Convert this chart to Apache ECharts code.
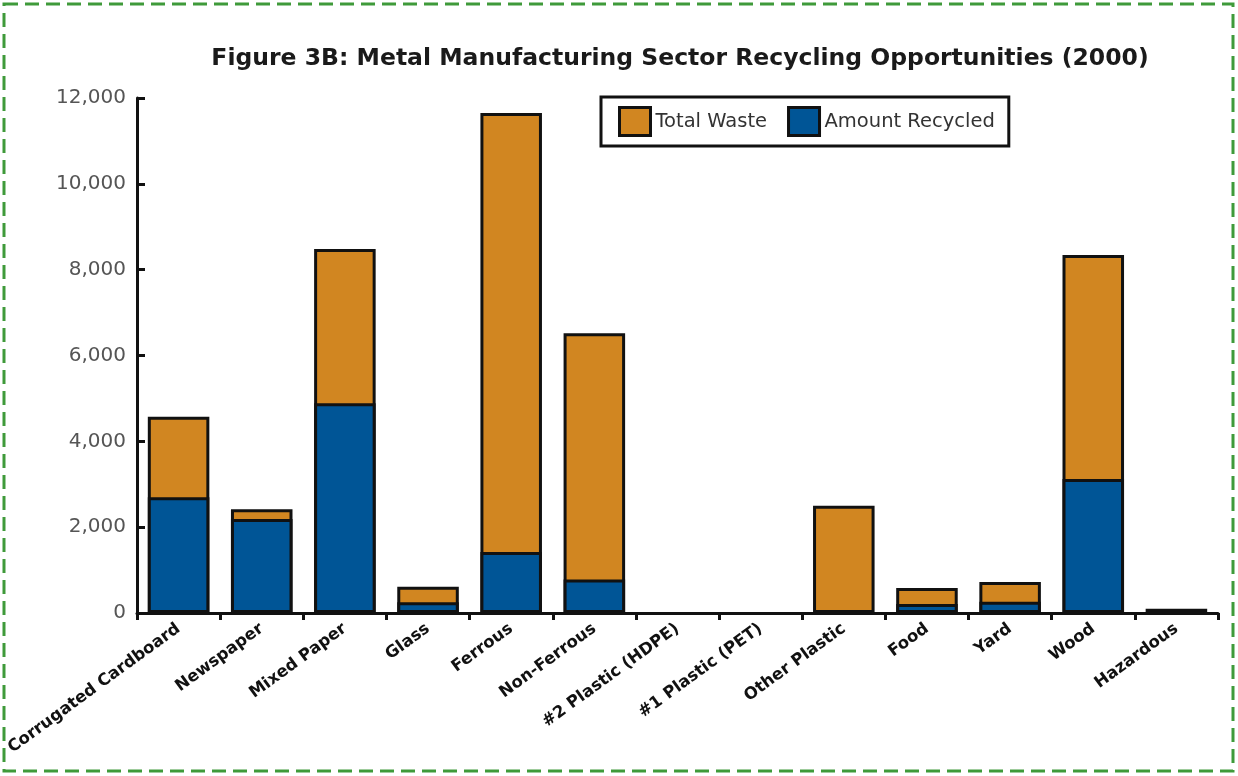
<!DOCTYPE html>
<html><head><meta charset="utf-8">
<script src="https://cdn.jsdelivr.net/npm/echarts@6/dist/echarts.min.js"></script>
<style>html,body{margin:0;padding:0;background:#fff}#c{width:1238px;height:776px}</style>
</head><body><div id="c"></div>
<script>
const categories = ["Corrugated Cardboard","Newspaper","Mixed Paper","Glass","Ferrous","Non-Ferrous","#2 Plastic (HDPE)","#1 Plastic (PET)","Other Plastic","Food","Yard","Wood","Hazardous"];
const totalWaste = [4570, 2420, 8480, 610, 11650, 6520, 0, 0, 2500, 580, 720, 8340, 100];
const amountRecycled = [2700, 2190, 4890, 250, 1420, 780, 0, 0, 0, 210, 260, 3120, 0];
const yTicks = [0, 2000, 4000, 6000, 8000, 10000, 12000];

const nz = arr => arr.map(v => (v === 0 ? '-' : v));

const chart = echarts.init(document.getElementById('c'));
chart.setOption({
  animation: false,
  backgroundColor: '#fff',
  title: {
    text: 'Figure 3B: Metal Manufacturing Sector Recycling Opportunities (2000)',
    left: 675, textAlign: 'center', top: 42,
    textStyle: {fontFamily: 'DejaVu Sans', fontWeight: 'bold', fontSize: 23.5, color: '#1a1a1a'}
  },
  graphic: [{
    type: 'rect', shape: {x: 4, y: 4, width: 1229, height: 767},
    style: {fill: 'none', stroke: '#3f9a3a', lineWidth: 3, lineDash: [14, 7]}, silent: true, z: 100
  }],
  legend: {
    data: ['Total Waste', 'Amount Recycled'],
    left: 601, top: 97,
    orient: 'horizontal',
    borderColor: '#111', borderWidth: 3, borderRadius: 0,
    padding: [9, 14, 9, 17],
    itemWidth: 31, itemHeight: 28, itemGap: 20,
    icon: 'rect',
    itemStyle: {borderColor: '#111', borderWidth: 3},
    textStyle: {fontFamily: 'DejaVu Sans', fontSize: 19.5, color: '#333'}
  },
  grid: {left: 137, right: 20, top: 98, bottom: 163, containLabel: false},
  xAxis: {
    type: 'category', data: categories,
    axisLine: {lineStyle: {color: '#111', width: 3}},
    axisTick: {show: true, alignWithLabel: false, length: 7, lineStyle: {color: '#111', width: 3}},
    axisLabel: {interval: 0, rotate: 36, margin: 14, fontFamily: 'DejaVu Sans', fontWeight: 'bold', fontSize: 16.5, color: '#111'}
  },
  yAxis: {
    type: 'value', min: 0, max: 12000, interval: 2000,
    axisLine: {show: true, lineStyle: {color: '#111', width: 3}},
    axisTick: {show: true, inside: true, length: 8, lineStyle: {color: '#111', width: 3}},
    splitLine: {show: false},
    axisLabel: {margin: 11, fontFamily: 'DejaVu Sans', fontSize: 20, color: '#555',
      formatter: v => yTicks.includes(v) ? v.toLocaleString('en-US') : ''}
  },
  series: [
    {name: 'Total Waste', type: 'bar', data: nz(totalWaste), barWidth: '74%', barGap: '-100%',
     itemStyle: {color: '#d18621', borderColor: '#111', borderWidth: 3}},
    {name: 'Amount Recycled', type: 'bar', data: nz(amountRecycled), barWidth: '74%', barGap: '-100%',
     itemStyle: {color: '#005596', borderColor: '#111', borderWidth: 3}}
  ]
});
</script></body></html>
